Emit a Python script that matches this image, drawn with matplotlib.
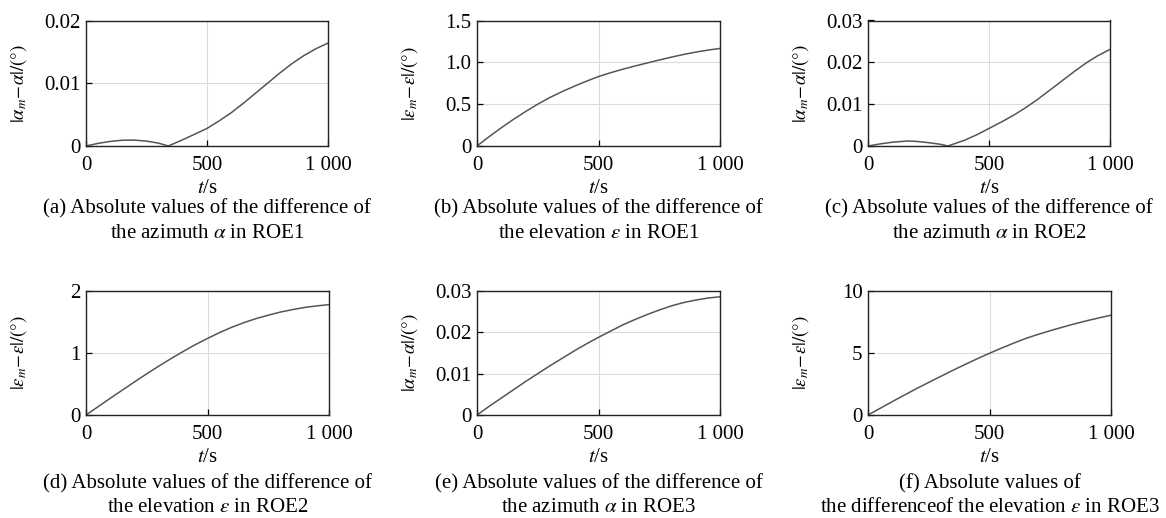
import matplotlib

matplotlib.use("Agg")
import matplotlib.pyplot as plt

plt.rcParams["font.family"] = ["Liberation Serif", "DejaVu Serif"]
plt.rcParams["mathtext.fontset"] = "stix"
plt.rcParams["font.size"] = 15

T_STEP = [0, 50, 100, 150, 200, 250, 300, 350, 400, 450, 500,
          550, 600, 650, 700, 750, 800, 850, 900, 950, 1000]

# (a) azimuth ROE1
t_a = [0, 50, 100, 150, 200, 250, 300, 340, 400, 450, 500,
       550, 600, 650, 700, 750, 800, 850, 900, 950, 1000]
y_a = [0, 0.00042, 0.00073, 0.00092, 0.00094, 0.00078, 0.00045, 0.0, 0.00100, 0.0019, 0.0028,
       0.0040, 0.0053, 0.0068, 0.0084, 0.0100, 0.0116, 0.0131, 0.0144, 0.0155, 0.0164]

# (b) elevation ROE1
y_b = [0, 0.112, 0.218, 0.318, 0.412, 0.500, 0.580, 0.650, 0.714, 0.774, 0.830,
       0.876, 0.918, 0.956, 0.992, 1.028, 1.062, 1.094, 1.122, 1.146, 1.166]

# (c) azimuth ROE2
t_c = [0, 50, 100, 165, 200, 250, 300, 330, 400, 450, 500,
       550, 600, 650, 700, 750, 800, 850, 900, 950, 1000]
y_c = [0, 0.0005, 0.0009, 0.0012, 0.0011, 0.0008, 0.0004, 0.0, 0.0014, 0.0027, 0.0042,
       0.0057, 0.0073, 0.0091, 0.0111, 0.0133, 0.0155, 0.0177, 0.0198, 0.0216, 0.0231]

# (d) elevation ROE2
y_d = [0, 0.135, 0.27, 0.403, 0.535, 0.665, 0.79, 0.91, 1.025, 1.135, 1.235,
       1.33, 1.415, 1.49, 1.555, 1.61, 1.66, 1.70, 1.735, 1.76, 1.78]

# (e) azimuth ROE3
y_e = [0, 0.0021, 0.0041, 0.0061, 0.0081, 0.0100, 0.0119, 0.0137, 0.0155, 0.0172, 0.0188,
       0.0203, 0.0218, 0.0231, 0.0243, 0.0254, 0.0264, 0.0272, 0.0278, 0.0283, 0.0286]

# (f) elevation ROE3
y_f = [0, 0.54, 1.08, 1.61, 2.13, 2.63, 3.12, 3.61, 4.08, 4.54, 4.98,
       5.40, 5.80, 6.18, 6.50, 6.80, 7.08, 7.35, 7.60, 7.83, 8.05]

X_TICKS = [0, 500, 1000]
X_TICK_LABELS = ["0", "500", "1 000"]

AZ_LABEL = r"$|\alpha_m\!-\!\alpha|/(°)$"
EL_LABEL = r"$|\varepsilon_m\!-\!\varepsilon|/(°)$"

panels = [
    (t_a, y_a, [0, 0.01, 0.02], ["0", "0.01", "0.02"], AZ_LABEL,
     ["(a) Absolute values of the difference of", r"the azimuth $\alpha$ in ROE1"]),
    (T_STEP, y_b, [0, 0.5, 1.0, 1.5], ["0", "0.5", "1.0", "1.5"], EL_LABEL,
     ["(b) Absolute values of the difference of", r"the elevation $\varepsilon$ in ROE1"]),
    (t_c, y_c, [0, 0.01, 0.02, 0.03], ["0", "0.01", "0.02", "0.03"], AZ_LABEL,
     ["(c) Absolute values of the difference of", r"the azimuth $\alpha$ in ROE2"]),
    (T_STEP, y_d, [0, 1, 2], ["0", "1", "2"], EL_LABEL,
     ["(d) Absolute values of the difference of", r"the elevation $\varepsilon$ in ROE2"]),
    (T_STEP, y_e, [0, 0.01, 0.02, 0.03], ["0", "0.01", "0.02", "0.03"], AZ_LABEL,
     ["(e) Absolute values of the difference of", r"the azimuth $\alpha$ in ROE3"]),
    (T_STEP, y_f, [0, 5, 10], ["0", "5", "10"], EL_LABEL,
     ["(f) Absolute values of", r"the differenceof the elevation $\varepsilon$ in ROE3"]),
]

W, H = 1166, 518
fig = plt.figure(figsize=(W / 100, H / 100), dpi=100)

# axes boxes in pixels: left, right, top, bottom
boxes = [
    (86, 328, 20.5, 146), (477, 720, 20.5, 146), (868, 1110, 20.5, 146),
    (86, 329, 291, 415), (477, 720, 291, 415), (868, 1111, 291, 415),
]
caption_y = [(209, 234), (209, 234), (209, 234), (484, 508), (484, 508), (484, 508)]

for (t, y, yticks, ylabels, ylab, caption), (l, r, tp, b), (c1, c2) in zip(panels, boxes, caption_y):
    ax = fig.add_axes([l / W, 1 - b / H, (r - l) / W, (b - tp) / H])
    ax.plot(t, y, color="#555555", lw=1.1)
    ax.set_xlim(0, 1000)
    ax.set_ylim(yticks[0], yticks[-1])
    ax.set_xticks(X_TICKS)
    ax.set_xticklabels(X_TICK_LABELS)
    ax.set_yticks(yticks)
    ax.set_yticklabels(ylabels)
    ax.grid(True, color="#dcdcdc", lw=0.8)
    ax.tick_params(direction="in", length=4, width=0.9, top=False, right=False)
    ax.tick_params(axis="x", pad=7)
    ax.tick_params(axis="y", pad=4)
    for sp in ax.spines.values():
        sp.set_linewidth(1.0)
        sp.set_color("#222222")
    ax.set_xlabel(r"$t$/s", labelpad=3)
    ax.set_ylabel(ylab, va="center", fontsize=13.5)
    ax.yaxis.set_label_coords(-0.278, 0.5)
    cx = (l + r) / 2 / W
    fig.text(cx, 1 - c1 / H, caption[0], ha="center", va="center")
    fig.text(cx, 1 - c2 / H, caption[1], ha="center", va="center")

fig.savefig("out.png", dpi=100)
